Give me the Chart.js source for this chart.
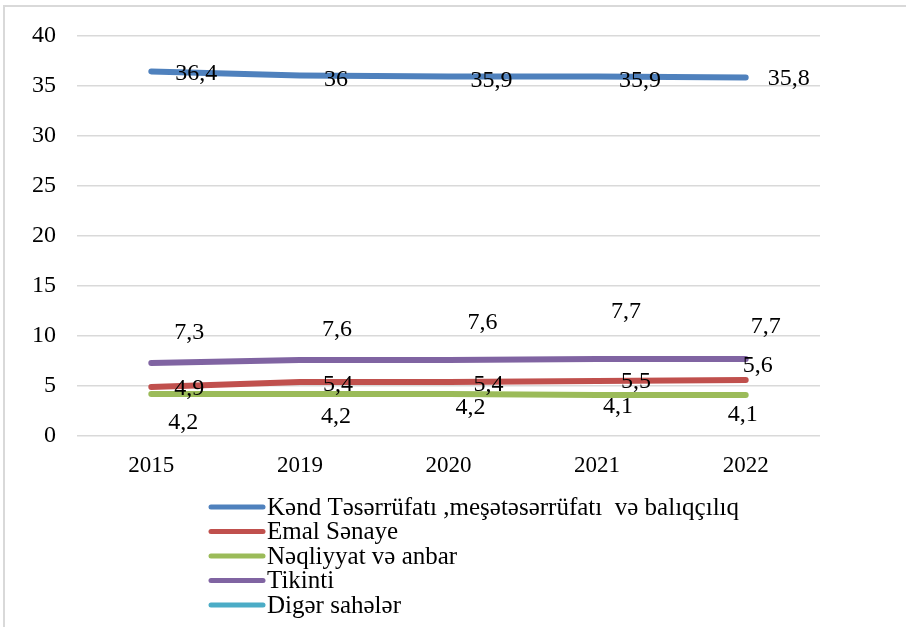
<!DOCTYPE html>
<html>
<head>
<meta charset="utf-8">
<script src="https://cdn.jsdelivr.net/npm/chart.js@4/dist/chart.umd.min.js"></script>
<style>
  html, body { margin: 0; padding: 0; background: #fff; }
  #wrap { position: relative; width: 906px; height: 627px; }
</style>
</head>
<body>
<div id="wrap"><canvas id="chart" width="906" height="627"></canvas></div>
<script>
const years = ["2015", "2019", "2020", "2021", "2022"];
const kendTeserrufati = [36.4, 36, 35.9, 35.9, 35.8];
const emalSenaye = [4.9, 5.4, 5.4, 5.5, 5.6];
const neqliyyat = [4.2, 4.2, 4.2, 4.1, 4.1];
const tikinti = [7.3, 7.6, 7.6, 7.7, 7.7];
const digerSaheler = [null, null, null, null, null];
const yTicks = [0, 5, 10, 15, 20, 25, 30, 35, 40];

// where each value label sits, relative to its point (px)
const labelShift = [
    [[45, 2], [36, 4], [43, 4], [43, 4], [43, 1]],
    [[38, 2], [38, 3], [40, 3], [39, 1], [12, -14]],
    [[32, 29], [36, 23], [22, 14], [21, 12], [-3, 20]],
    [[38, -30], [37, -30], [34, -37], [29, -47], [20, -32]],
    [[0, 0], [0, 0], [0, 0], [0, 0], [0, 0]]
];

const FONT = "'Liberation Serif', 'DejaVu Serif', serif";

function series(label, data, color) {
    return {
        label: label,
        data: data,
        borderColor: color,
        backgroundColor: color,
        borderWidth: 6,
        borderCapStyle: "round",
        borderJoinStyle: "round",
        pointRadius: 0,
        pointHoverRadius: 0,
        tension: 0,
        fill: false
    };
}

const frameAndLabels = {
    id: "frameAndLabels",
    beforeDraw(chart) {
        const ctx = chart.ctx;
        ctx.save();
        ctx.strokeStyle = "#d9d9d9";
        ctx.lineWidth = 2;
        ctx.beginPath();
        ctx.moveTo(4, 627);
        ctx.lineTo(4, 6);
        ctx.lineTo(906, 6);
        ctx.stroke();
        ctx.restore();
    },
    afterDatasetsDraw(chart) {
        const ctx = chart.ctx;
        ctx.save();
        ctx.font = "24px " + FONT;
        ctx.fillStyle = "#000";
        ctx.textAlign = "center";
        ctx.textBaseline = "middle";
        chart.data.datasets.forEach((ds, i) => {
            const meta = chart.getDatasetMeta(i);
            meta.data.forEach((pt, j) => {
                const v = ds.data[j];
                if (v === null || v === undefined) return;
                const s = labelShift[i][j];
                ctx.fillText(String(v).replace(".", ","), pt.x + s[0], pt.y + s[1]);
            });
        });

        // legend, one entry per row
        ctx.font = "25px " + FONT;
        ctx.textAlign = "left";
        chart.data.datasets.forEach((ds, i) => {
            const y = 507 + i * 24.5;
            ctx.strokeStyle = ds.borderColor;
            ctx.lineWidth = 5;
            ctx.lineCap = "round";
            ctx.beginPath();
            ctx.moveTo(211, y);
            ctx.lineTo(263, y);
            ctx.stroke();
            ctx.fillText(ds.label, 267, y + 1);
        });
        ctx.restore();
    }
};

new Chart(document.getElementById("chart"), {
    type: "line",
    data: {
        labels: years,
        datasets: [
            series("Kənd Təsərrüfatı ,meşətəsərrüfatı  və balıqçılıq", kendTeserrufati, "#4f81bd"),
            series("Emal Sənaye", emalSenaye, "#c0504d"),
            series("Nəqliyyat və anbar", neqliyyat, "#9bbb59"),
            series("Tikinti", tikinti, "#8064a2"),
            series("Digər sahələr", digerSaheler, "#4bacc6")
        ]
    },
    options: {
        responsive: false,
        animation: false,
        layout: { padding: { left: 0, right: 86, top: 35, bottom: 0 } },
        scales: {
            x: {
                offset: true,
                grid: { display: false, drawTicks: false },
                border: { display: false },
                ticks: { color: "#000", font: { family: FONT, size: 23 }, padding: 16 },
                afterFit(scale) { scale.height = 191; }
            },
            y: {
                min: 0,
                max: 40,
                afterBuildTicks(scale) { scale.ticks = yTicks.map(v => ({ value: v })); },
                grid: { color: "#d9d9d9", lineWidth: 1.5, drawTicks: false },
                border: { display: false },
                ticks: { color: "#000", font: { family: FONT, size: 24 }, padding: 21 },
                afterFit(scale) { scale.width = 77; }
            }
        },
        plugins: {
            legend: { display: false },
            tooltip: { enabled: false }
        }
    },
    plugins: [frameAndLabels]
});
</script>
</body>
</html>
